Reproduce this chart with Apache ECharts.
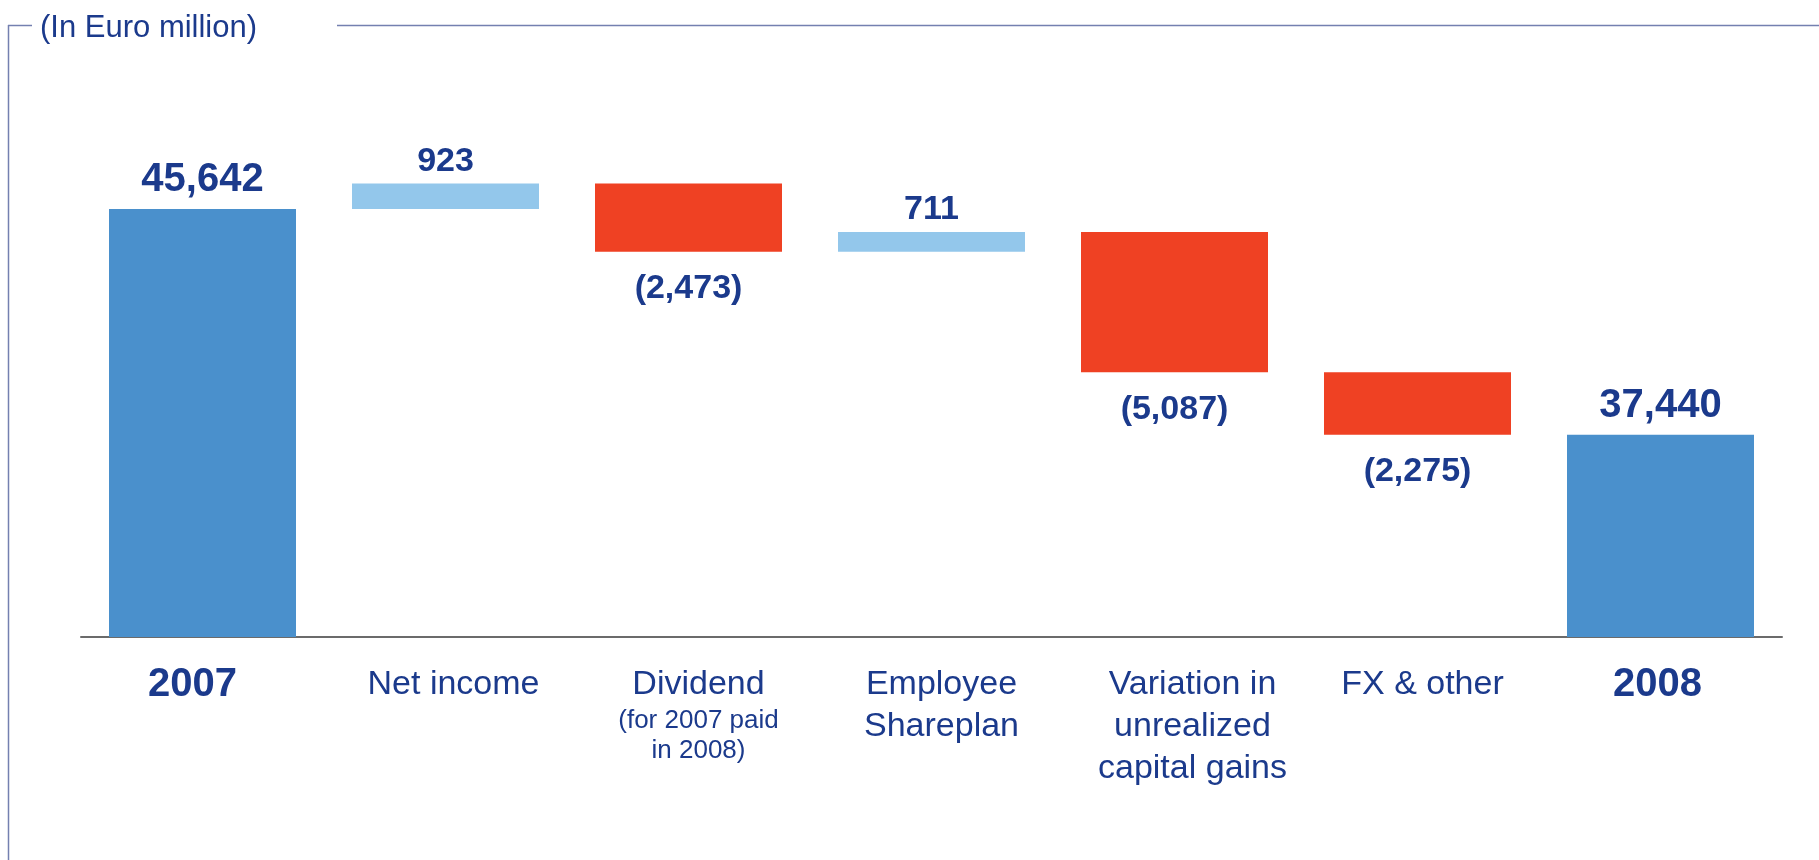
<!DOCTYPE html>
<html>
<head>
<meta charset="utf-8">
<title>Shareholders' equity 2007-2008</title>
<script src="https://cdn.jsdelivr.net/npm/echarts@6/dist/echarts.min.js"></script>
<style>
  html, body { margin: 0; padding: 0; background: #fff; }
  #chart { width: 1819px; height: 860px; }
</style>
</head>
<body>
<div id="chart"></div>
<script>
// data
const categories = ['2007', 'Net income', 'Dividend', 'Employee\nShareplan', 'Variation in\nunrealized\ncapital gains', 'FX & other', '2008']
const notes = ['', '', '(for 2007 paid\nin 2008)', '', '', '', '']
const steps = [45642, 923, -2473, 711, -5087, -2275, 37440]
const isTotal = [true, false, false, false, false, false, true]

const navy = '#1b3a8c'
const fontFamily = "'Liberation Sans', Arial, sans-serif"
// the category texts in the original sit a little off the bar centres (px)
const labelNudge = [-10, 8, 10, 10, 18, 5, -3]

// build waterfall stacks from the steps
const baseData = []
const totalData = []
const upData = []
const downData = []
let running = 0
steps.forEach((v, i) => {
  if (isTotal[i]) {
    running = v
    baseData.push(0)
    totalData.push(v)
    upData.push('-')
    downData.push('-')
  } else if (v >= 0) {
    baseData.push(running)
    running += v
    totalData.push('-')
    upData.push(v)
    downData.push('-')
  } else {
    running += v
    baseData.push(running)
    totalData.push('-')
    upData.push('-')
    downData.push(-v)
  }
})

const fmt = v => Number(v).toLocaleString('en-US')

// rich styles per category so each label can be nudged sideways
const nudgePad = s => (s >= 0 ? [0, 0, 0, 2 * s] : [0, -2 * s, 0, 0])
const rich = {}
labelNudge.forEach((s, i) => {
  rich['year' + i] = { fontSize: 40, fontWeight: 'bold', color: navy, lineHeight: 42, fontFamily, padding: nudgePad(s) }
  rich['cat' + i] = { fontSize: 34, color: navy, lineHeight: 42, fontFamily, padding: nudgePad(s) }
  rich['sub' + i] = { fontSize: 26, color: navy, lineHeight: 30, fontFamily, padding: nudgePad(s) }
})

const chart = echarts.init(document.getElementById('chart'))

chart.setOption({
  animation: false,
  textStyle: { fontFamily },
  title: {
    text: '(In Euro million)',
    left: 40,
    top: 13,
    padding: 0,
    textStyle: { fontSize: 31, fontWeight: 'normal', color: navy, fontFamily }
  },
  graphic: [
    { type: 'line', shape: { x1: 8.5, y1: 25, x2: 8.5, y2: 860 }, style: { stroke: '#7480b0', lineWidth: 1.5 } },
    { type: 'line', shape: { x1: 8, y1: 25.5, x2: 32, y2: 25.5 }, style: { stroke: '#7480b0', lineWidth: 1.5 } },
    { type: 'line', shape: { x1: 337, y1: 25.5, x2: 1819, y2: 25.5 }, style: { stroke: '#7480b0', lineWidth: 1.5 } }
  ],
  grid: {
    left: 81,
    right: 37,
    top: 89,
    bottom: 223
  },
  xAxis: {
    type: 'category',
    data: categories,
    axisTick: { show: false },
    axisLine: { lineStyle: { color: '#6b6b6b', width: 2 } },
    axisLabel: {
      interval: 0,
      margin: 27,
      formatter: function(value, idx) {
        if (isTotal[idx]) {
          return `{year${idx}|${value}}`
        }
        const lines = value.split('\n').map(l => `{cat${idx}|${l}}`)
        if (notes[idx]) {
          notes[idx].split('\n').forEach(l => lines.push(`{sub${idx}|${l}}`))
        }
        return lines.join('\n')
      },
      rich: rich
    }
  },
  yAxis: {
    type: 'value',
    min: 30100,
    max: 50000,
    show: false,
    splitLine: { show: false }
  },
  series: [{
    name: 'base',
    type: 'bar',
    stack: 'wf',
    barWidth: 187,
    silent: true,
    itemStyle: { color: 'transparent' },
    data: baseData
  }, {
    name: 'Total',
    type: 'bar',
    stack: 'wf',
    barWidth: 187,
    itemStyle: { color: '#4a90cc' },
    label: {
      show: true,
      position: 'top',
      distance: 9,
      fontSize: 40,
      fontWeight: 'bold',
      color: navy,
      fontFamily,
      formatter: p => fmt(p.value)
    },
    data: totalData
  }, {
    name: 'Increase',
    type: 'bar',
    stack: 'wf',
    barWidth: 187,
    itemStyle: { color: '#93c7eb' },
    label: {
      show: true,
      position: 'top',
      distance: 5,
      fontSize: 34,
      fontWeight: 'bold',
      color: navy,
      fontFamily,
      formatter: p => fmt(p.value)
    },
    data: upData
  }, {
    name: 'Decrease',
    type: 'bar',
    stack: 'wf',
    barWidth: 187,
    itemStyle: { color: '#ef4123' },
    label: {
      show: true,
      position: 'bottom',
      distance: 20,
      fontSize: 34,
      fontWeight: 'bold',
      color: navy,
      fontFamily,
      formatter: p => '(' + fmt(p.value) + ')'
    },
    data: downData
  }]
})

window.addEventListener('resize', () => chart.resize())
</script>
</body>
</html>
